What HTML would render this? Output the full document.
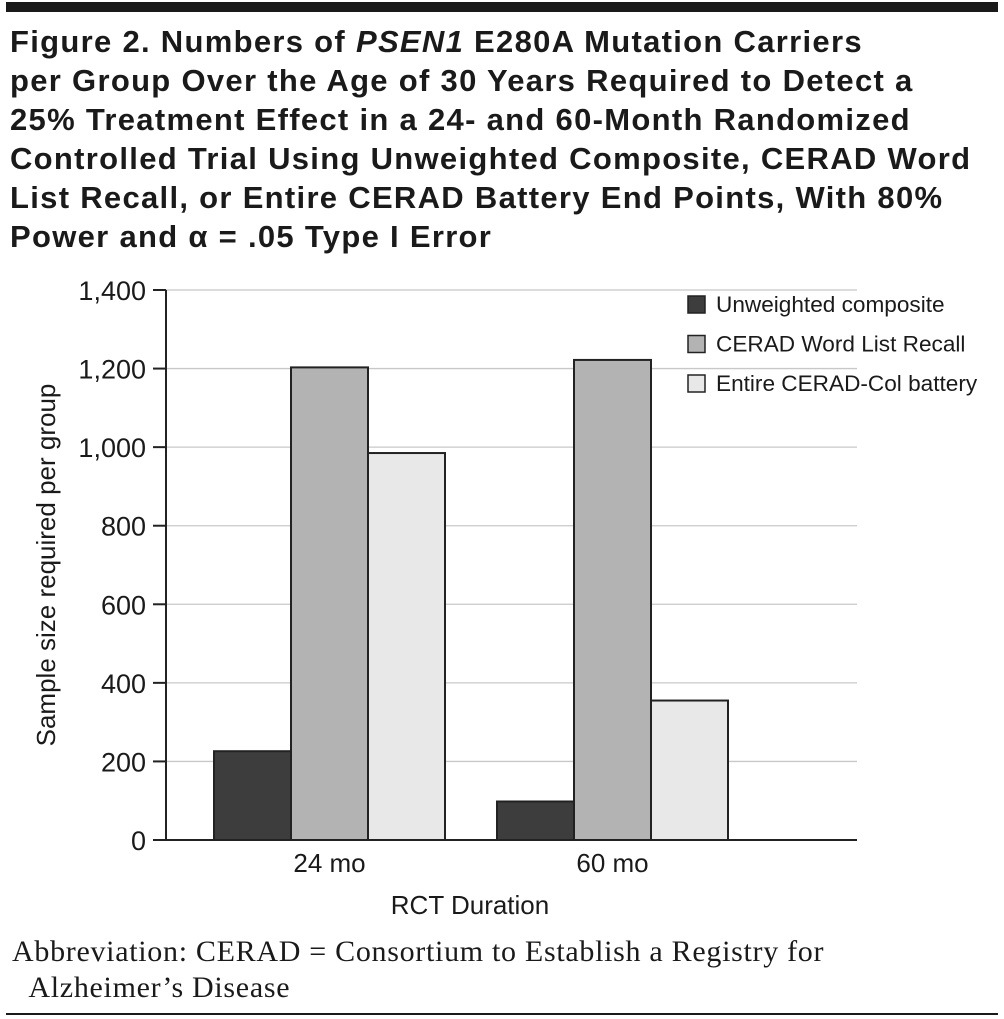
<!DOCTYPE html>
<html><head><meta charset="utf-8"><style>
body{margin:0;background:#fff;width:1004px;height:1019px;overflow:hidden;position:relative;font-family:"Liberation Sans","DejaVu Sans",sans-serif}
#title{position:absolute;left:10px;top:22px;font-weight:bold;font-size:31px;line-height:39px;color:#1a1a1a;letter-spacing:1.3px;white-space:nowrap}
#abbr{position:absolute;left:12px;top:934px;font-family:"Liberation Serif",serif;font-size:30px;line-height:36px;color:#1a1a1a;letter-spacing:0.7px;white-space:nowrap}
</style></head><body>
<div style="position:absolute;left:6px;top:2px;width:992px;height:10px;background:#1a1a1a"></div>
<div id="title">Figure 2. Numbers of <i>PSEN1</i> E280A Mutation Carriers<br>per Group Over the Age of 30 Years Required to Detect a<br>25% Treatment Effect in a 24- and 60-Month Randomized<br>Controlled Trial Using Unweighted Composite, CERAD Word<br>List Recall, or Entire CERAD Battery End Points, With 80%<br>Power and α = .05 Type I Error</div>
<svg id="chart" width="1004" height="1019" style="position:absolute;left:0;top:0"></svg>
<div id="abbr">Abbreviation: CERAD = Consortium to Establish a Registry for<br>&nbsp;&nbsp;Alzheimer’s Disease</div>
<div style="position:absolute;left:6px;top:1013px;width:992px;height:2px;background:#1a1a1a"></div>
<script>
const categories=["24 mo","60 mo"];
const seriesNames=["Unweighted composite","CERAD Word List Recall","Entire CERAD-Col battery"];
const unweighted=[226,98];
const wordRecall=[1203,1222];
const entireBattery=[985,355];
const yTicks=[0,200,400,600,800,1000,1200,1400];
const yTickLabels=["0","200","400","600","800","1,000","1,200","1,400"];
const colors=["#3d3d3d","#b3b3b3","#e8e8e8"];
const svg=document.getElementById('chart');
const NS="http://www.w3.org/2000/svg";
function mk(t,a){const e=document.createElementNS(NS,t);for(const k in a)e.setAttribute(k,a[k]);svg.appendChild(e);return e;}
const y0=840,yTop=290,yMax=1400,axX=166,right=857;
function yS(v){return y0-(v/yMax)*(y0-yTop);}
const groupStart=[214,497],barW=77;
function xS(g,s){return groupStart[g]+s*barW;}
yTicks.forEach((v,i)=>{
 if(v>0){const g=mk('line',{x1:axX,x2:right,y1:yS(v),y2:yS(v),stroke:'#c8c8c8','stroke-width':1.3});
 }
 const t=mk('line',{x1:153,x2:axX,y1:yS(v),y2:yS(v),stroke:'#222','stroke-width':2});
 
 const l=mk('text',{x:146,y:yS(v)+10,'text-anchor':'end','font-size':27,fill:'#1a1a1a','font-family':'Liberation Sans, sans-serif'});
 l.textContent=yTickLabels[i];
 
});
const series=[unweighted,wordRecall,entireBattery];
series.forEach((arr,s)=>arr.forEach((v,g)=>{
 const r=mk('rect',{x:xS(g,s),y:yS(v),width:barW,height:y0-yS(v),fill:colors[s],stroke:'#222','stroke-width':2});
 
 
}));
const ax=mk('path',{d:`M${axX} ${yTop} V${y0} H${right}`,fill:'none',stroke:'#222','stroke-width':2});

categories.forEach((c,g)=>{
 const t=mk('text',{x:groupStart[g]+1.5*barW,y:872,'text-anchor':'middle','font-size':26,fill:'#1a1a1a'});
 t.textContent=c;
});
const xt=mk('text',{x:470,y:914,'text-anchor':'middle','font-size':26,fill:'#1a1a1a'});
xt.textContent='RCT Duration';
const yt=mk('text',{x:0,y:0,'text-anchor':'middle','font-size':26,fill:'#1a1a1a',transform:'translate(55,565) rotate(-90)'});
yt.textContent='Sample size required per group';
seriesNames.forEach((n,s)=>{
 const ly=296+s*39.5;
 const r=mk('rect',{x:688,y:ly,width:17,height:17,fill:colors[s],stroke:'#222','stroke-width':1.5});
 
 const t=mk('text',{x:716,y:ly+16,'font-size':22.6,fill:'#1a1a1a'});
 t.textContent=n;
});
</script>
</body></html>
